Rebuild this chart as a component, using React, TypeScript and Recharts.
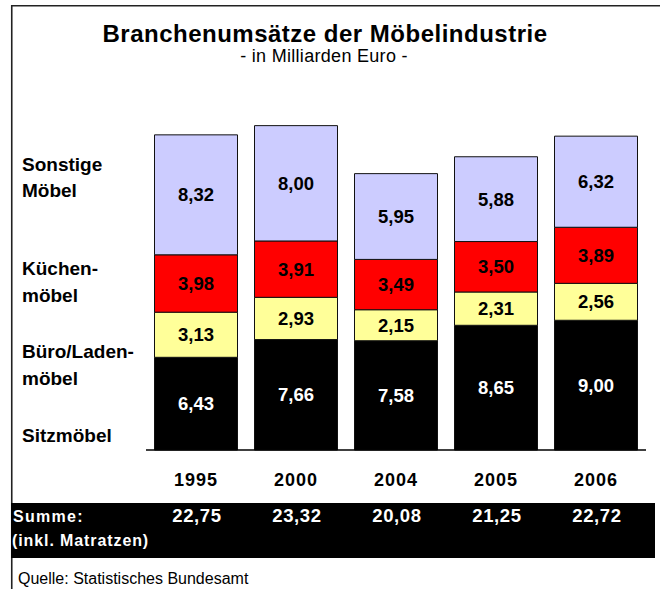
import React from 'react';
import { BarChart, Bar, XAxis, YAxis, LabelList } from 'recharts';

// Werte in Mrd. Euro
const years = ['1995', '2000', '2004', '2005', '2006'];
const sitzmoebel = [6.43, 7.66, 7.58, 8.65, 9.0];
const bueroLaden = [3.13, 2.93, 2.15, 2.31, 2.56];
const kuechen = [3.98, 3.91, 3.49, 3.5, 3.89];
const sonstige = [8.32, 8.0, 5.95, 5.88, 6.32];
const summen = [22.75, 23.32, 20.08, 21.25, 22.72];

const data = years.map((year, i) => ({
  year,
  sitz: sitzmoebel[i],
  buero: bueroLaden[i],
  kueche: kuechen[i],
  sonst: sonstige[i],
}));

const FONT = "Arial, 'Liberation Sans', Helvetica, sans-serif";

const fmt = (v: any) => Number(v).toFixed(2).replace('.', ',');

const labelStyle = {
  fontSize: 18.5,
  fontWeight: 'bold' as const,
  fontFamily: FONT,
};

// Jahr + Summe unter der Achse
const YearTick = (props: any) => {
  const { x, y, payload } = props;
  const idx = payload?.index ?? props.index ?? 0;
  return (
    <g>
      <text
        x={x}
        y={y + 36}
        textAnchor="middle"
        fill="#000"
        fontFamily={FONT}
        fontSize={18}
        fontWeight="bold"
        style={{ letterSpacing: 1 }}
      >
        {payload.value}
      </text>
      <text
        x={x + 1}
        y={y + 72}
        textAnchor="middle"
        fill="#fff"
        fontFamily={FONT}
        fontSize={18.5}
        fontWeight="bold"
        style={{ letterSpacing: 0.6 }}
      >
        {fmt(summen[idx])}
      </text>
    </g>
  );
};

const legendLines = [
  { text: 'Sonstige', y: 171 },
  { text: 'Möbel', y: 197 },
  { text: 'Küchen-', y: 275 },
  { text: 'möbel', y: 302 },
  { text: 'Büro/Laden-', y: 358 },
  { text: 'möbel', y: 385 },
  { text: 'Sitzmöbel', y: 442 },
];

const App: React.FC = () => {
  return (
    <div style={{ position: 'absolute', left: 0, top: 0, width: 660, height: 589, background: '#fff' }}>
      {/* Rahmen, Titel, Beschriftungen, Summenband */}
      <svg width={660} height={589} style={{ position: 'absolute', left: 0, top: 0 }}>
        <path d="M11.75 589 L11.75 5.75 L660 5.75" fill="none" stroke="#222" strokeWidth={1.6} />
        <rect x={11} y={503} width={644} height={55} fill="#000" />
        <text
          x={325}
          y={42}
          textAnchor="middle"
          fontFamily={FONT}
          fontSize={24}
          fontWeight="bold"
          fill="#000"
          style={{ letterSpacing: 0.5 }}
        >
          Branchenumsätze der Möbelindustrie
        </text>
        <text
          x={324}
          y={62}
          textAnchor="middle"
          fontFamily={FONT}
          fontSize={18}
          fill="#000"
          style={{ letterSpacing: 0.3 }}
        >
          - in Milliarden Euro -
        </text>
        {legendLines.map((l, i) => (
          <text key={i} x={22} y={l.y} fontFamily={FONT} fontSize={19} fontWeight="bold" fill="#000">
            {l.text}
          </text>
        ))}
        <text x={13} y={522} fontFamily={FONT} fontSize={16} fontWeight="bold" fill="#fff" style={{ letterSpacing: 1.3 }}>
          Summe:
        </text>
        <text x={12} y={546} fontFamily={FONT} fontSize={16} fontWeight="bold" fill="#fff" style={{ letterSpacing: 0.9 }}>
          (inkl. Matratzen)
        </text>
        <text x={18} y={584} fontFamily={FONT} fontSize={16} fill="#000">
          Quelle: Statistisches Bundesamt
        </text>
      </svg>

      <div style={{ position: 'absolute', left: 0, top: 0 }}>
        <BarChart
          width={660}
          height={589}
          data={data}
          margin={{ top: 104, right: 14, bottom: 0, left: 146 }}
          barCategoryGap="8.5%"
        >
          <XAxis
            dataKey="year"
            axisLine={{ stroke: '#000', strokeWidth: 1.5 }}
            tickLine={false}
            tickSize={0}
            tickMargin={0}
            tick={<YearTick />}
            interval={0}
            height={139}
          />
          <YAxis hide domain={[0, 24]} />
          <Bar dataKey="sitz" stackId="a" fill="#000000" stroke="#111" strokeWidth={1} isAnimationActive={false}>
            <LabelList dataKey="sitz" position="center" formatter={fmt} fill="#fff" {...labelStyle} />
          </Bar>
          <Bar dataKey="buero" stackId="a" fill="#FFFF99" stroke="#111" strokeWidth={1} isAnimationActive={false}>
            <LabelList dataKey="buero" position="center" formatter={fmt} fill="#000" {...labelStyle} />
          </Bar>
          <Bar dataKey="kueche" stackId="a" fill="#FF0000" stroke="#111" strokeWidth={1} isAnimationActive={false}>
            <LabelList dataKey="kueche" position="center" formatter={fmt} fill="#000" {...labelStyle} />
          </Bar>
          <Bar dataKey="sonst" stackId="a" fill="#CCCCFF" stroke="#111" strokeWidth={1} isAnimationActive={false}>
            <LabelList dataKey="sonst" position="center" formatter={fmt} fill="#000" {...labelStyle} />
          </Bar>
        </BarChart>
      </div>
    </div>
  );
};

export default App;
